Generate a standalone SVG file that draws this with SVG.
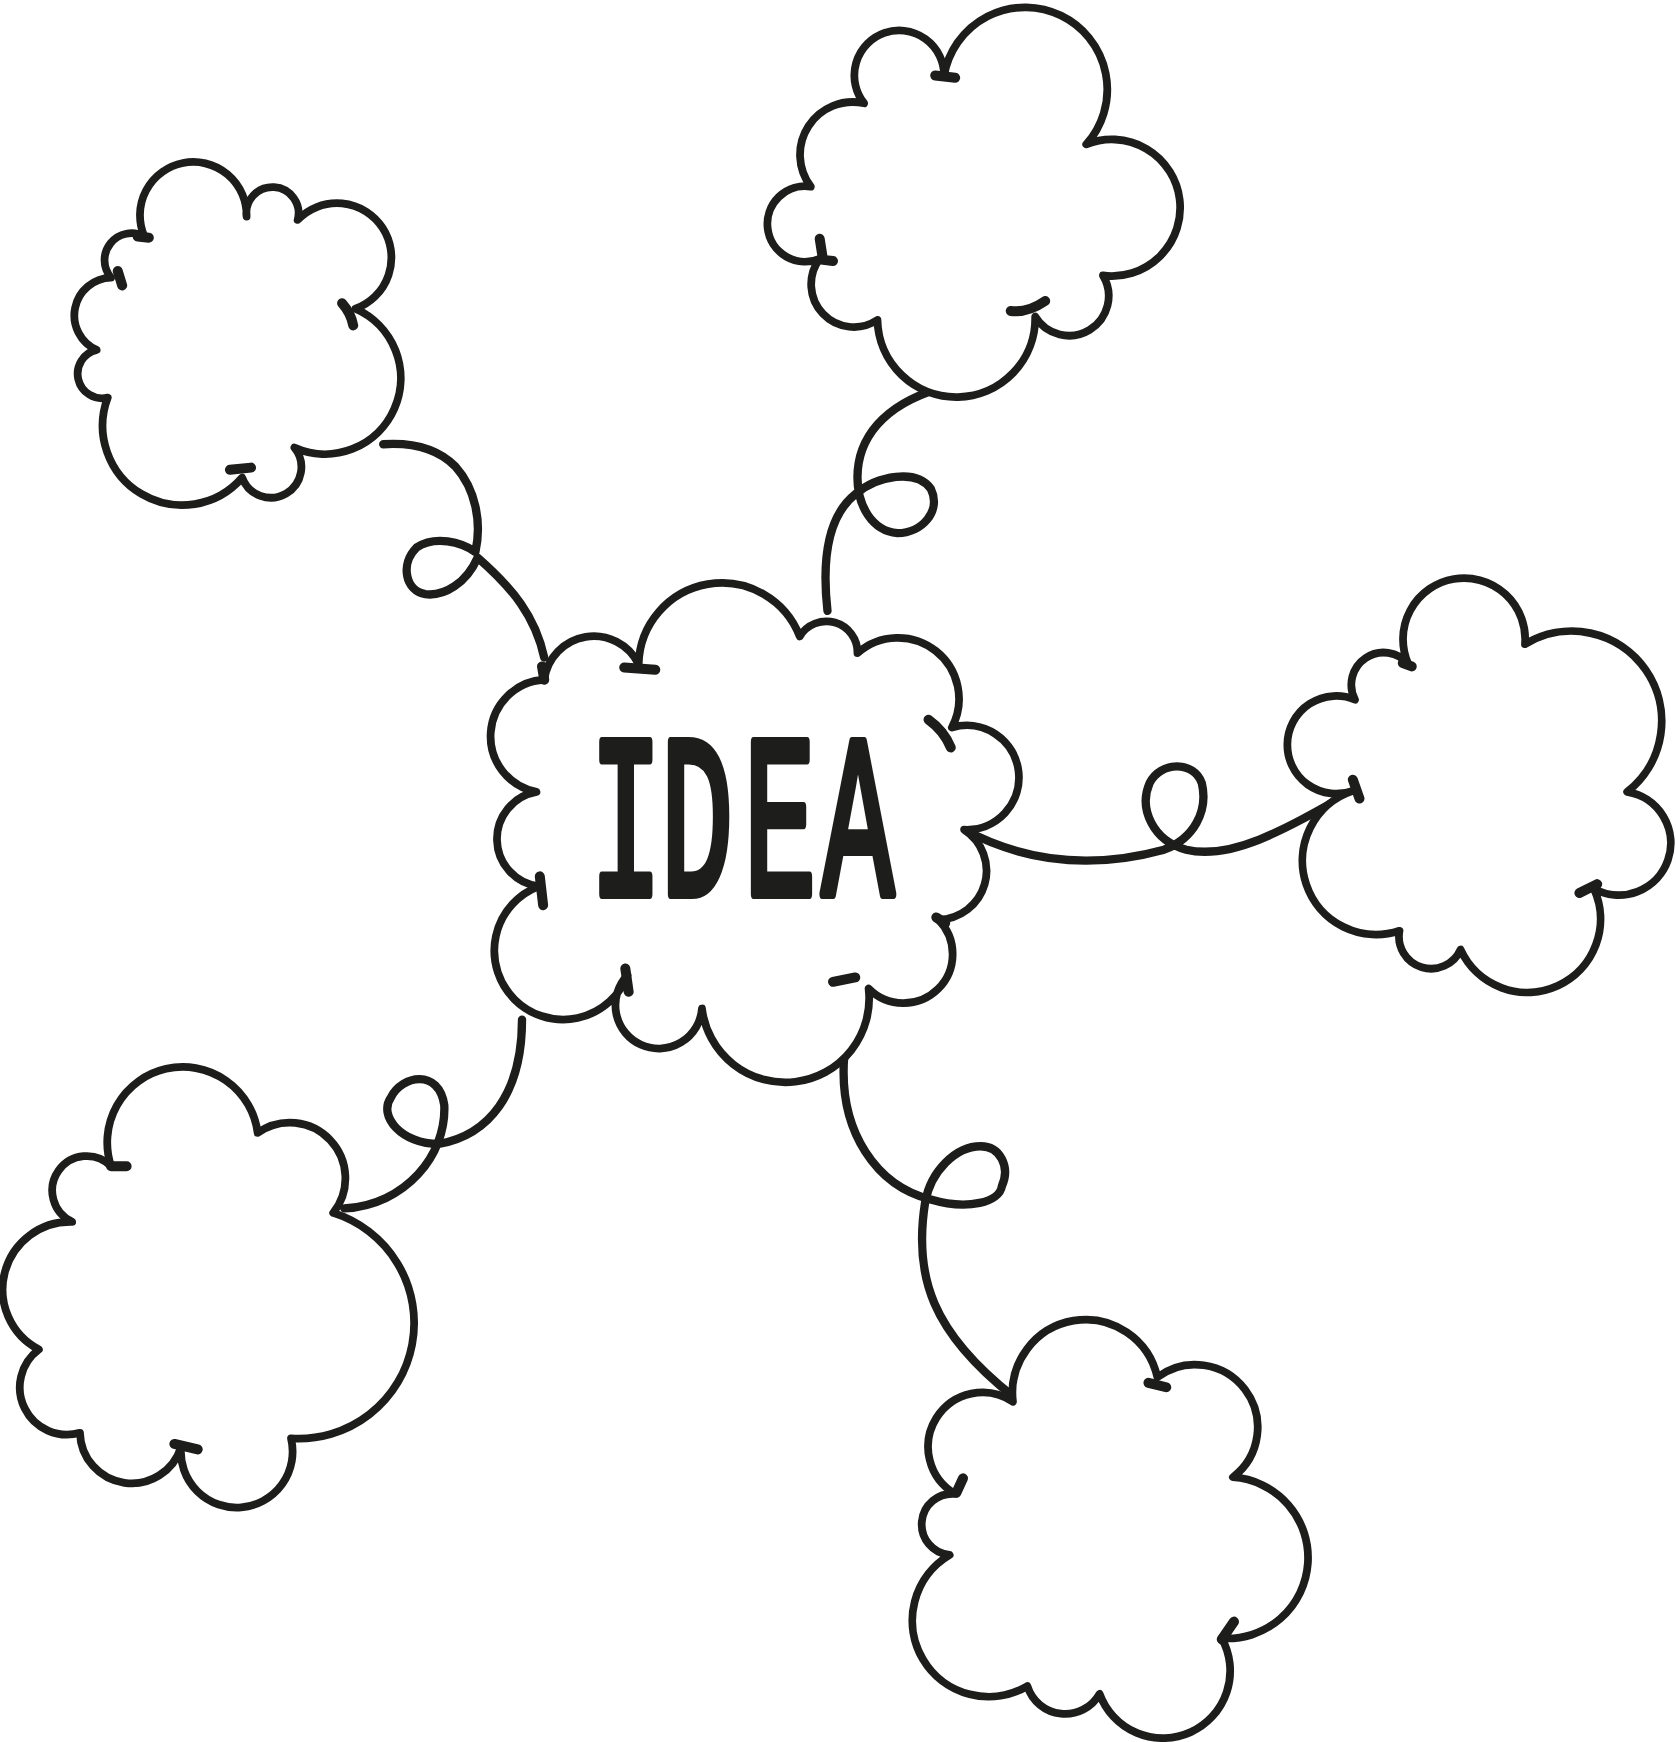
<svg xmlns="http://www.w3.org/2000/svg" width="1676" height="1742" viewBox="0 0 1676 1742">
<style>
.s{fill:none;stroke:#1d1d1b;stroke-width:7.5;stroke-linecap:round;stroke-linejoin:round}
.c{fill:#fff;stroke:#1d1d1b;stroke-width:7;stroke-linecap:round;stroke-linejoin:round}
.k{fill:none;stroke:#1d1d1b;stroke-width:9;stroke-linecap:round;stroke-linejoin:round}
.t{font-family:"Liberation Mono","Courier New",monospace;font-size:230px;fill:#1d1d1b;stroke:#1d1d1b;stroke-width:8;stroke-linejoin:round;vector-effect:non-scaling-stroke}
</style>
<rect width="1676" height="1742" fill="#fff"/>
<g transform="scale(1.1107)">
<g id="connectors" class="s">
<path d="M490,592 C482,555 462,530 430,502 C420,525 400,537 383,535 C365,532 360,508 375,493 C392,482 415,488 428,497 C434,470 428,440 410,420 C395,405 375,398 345,400"/>
<path d="M745,550 C740,505 745,465 770,445 C790,428 825,422 838,440 C848,460 830,480 808,480 C785,478 772,455 772,430 C772,395 795,365 845,350"/>
<path d="M868,747 C915,772 975,785 1048,765 C1075,755 1088,730 1082,705 C1075,685 1045,685 1035,705 C1025,728 1038,757 1068,765 C1110,775 1160,745 1222,710"/>
<path d="M470,918 C470,985 440,1022 395,1030 C362,1030 340,1005 352,988 C362,968 395,962 400,995 C402,1040 365,1085 310,1088"/>
<path d="M760,952 C755,1020 790,1068 838,1080 C872,1090 900,1082 902,1068 C910,1050 900,1032 883,1032 C860,1032 838,1055 833,1082 C822,1150 840,1200 912,1257"/>
</g>
<g id="cloud-center">
<path class="c" d="M490,612 A45,45 0 0 1 575,598 A75,75 0 0 1 720,573 A28,28 0 0 1 772,588 A55,55 0 0 1 857,655 A47,47 0 1 1 868,747 A44,44 0 0 1 845,828 A44,44 0 1 1 782,890 A75,75 0 0 1 632,908 A39,39 0 1 1 565,878 A62,62 0 1 1 485,798 A43,43 0 0 1 483,713 A51,51 0 0 1 490,612 Z"/>
<path class="k" d="M562,601 L590,603 M836,648 Q850,658 856,673 M750,884 L770,880 M486,789 L489,815 M488,600 L490,612 M563,872 L566,893 M843,826 L851,831"/>
</g>
<g id="cloud-upper-left">
<path class="c" d="M130,213 A48,48 0 1 1 222,195 A23.5,23.5 0 1 1 268,198 A49,49 0 1 1 320,278 A68,68 0 1 1 265,403 A27.5,27.5 0 1 1 218,430 A71.5,71.5 0 0 1 97,358 A22,22 0 0 1 87,315 A34,34 0 0 1 100,250 A24.2,24.2 0 0 1 130,213 Z"/>
<path class="k" d="M124,213 L134,214 M308,273 Q316,282 318,293 M207,423 L226,421 M106,244 L110,257"/>
</g>
<g id="cloud-upper">
<path class="c" d="M850,68 A74,74 0 1 1 978,130 A61.5,61.5 0 1 1 993,248 A34.6,34.6 0 1 1 932,285 A71,71 0 0 1 790,288 A38.4,38.4 0 0 1 738,233 A34,34 0 1 1 730,168 A47.4,47.4 0 0 1 778,93 A40.4,40.4 0 1 1 850,68 Z"/>
<path class="k" d="M842,68 L860,70 M910,280 Q925,282 941,271 M738,215 L741,234 L750,235"/>
</g>
<g id="cloud-right">
<path class="c" d="M1268,598 A55,55 0 1 1 1373,580 A81,81 0 0 1 1465,713 A46.7,46.7 0 1 1 1435,800 A66,66 0 1 1 1315,855 A29,29 0 0 1 1260,838 A66,66 0 0 1 1218,712 A44,44 0 1 1 1220,630 A29,29 0 0 1 1268,598 Z"/>
<path class="k" d="M1263,597 L1271,600 M1218,702 L1224,719 M1422,804 L1438,796"/>
</g>
<g id="cloud-lower-left">
<path class="c" d="M100,1050 A68,68 0 1 1 232,1020 A50,50 0 0 1 300,1092 A104,104 0 0 1 262,1295 A50.3,50.3 0 1 1 163,1303 A46.6,46.6 0 0 1 72,1290 A42.5,42.5 0 0 1 35,1215 A61,61 0 0 1 65,1100 A31,31 0 1 1 100,1050 Z"/>
<path class="k" d="M100,1050 L114,1050 M157,1300 L178,1305"/>
</g>
<g id="cloud-lower-right">
<path class="c" d="M912,1262 A66,66 0 0 1 1042,1240 A56,56 0 0 1 1110,1330 A72.6,72.6 0 1 1 1100,1475 A60.6,60.6 0 1 1 990,1525 A35.6,35.6 0 0 1 925,1518 A68.5,68.5 0 0 1 855,1400 A27.6,27.6 0 1 1 860,1345 A49,49 0 1 1 912,1262 Z"/>
<path class="k" d="M1034,1245 L1050,1249 M1100,1476 L1111,1460 M861,1344 L867,1331"/>
</g>
</g>
<g id="label">
<text class="t" transform="matrix(0.52 0 0 1 0 0)" x="1134.6 1271 1430.8 1580.8" y="894">IDEA</text>
</g>
</svg>
